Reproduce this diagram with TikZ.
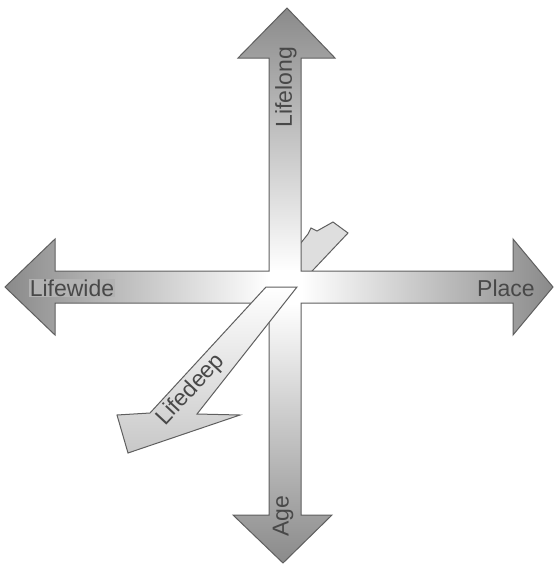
\documentclass[tikz,border=0pt]{standalone}
\usepackage{fontspec}
\setmainfont{Liberation Sans}
\definecolor{armgray}  {RGB}{138,138,138}
\definecolor{midgray}  {RGB}{196,196,196}
\definecolor{edgegray} {RGB}{95,95,95}
\definecolor{deepgray} {RGB}{200,200,200}
\definecolor{labelgray}{RGB}{72,72,72}
\definecolor{boxgray}  {RGB}{178,178,178}

\begin{document}
\begin{tikzpicture}[
  x=1pt,y=-1pt,
  every node/.style={font=\fontsize{23}{27}\selectfont,text=labelgray,inner sep=1pt},
  outline/.style={draw=edgegray,line width=1pt,line join=miter}]
  \useasboundingbox (0,0) rectangle (556,566);
  % far end of the deep arrow, behind the cross
  \filldraw[outline,fill=deepgray!60] (266,287)--(308,234)--(311,228)--(317,231)--(333,222)--(348,233)--(297,287)--cycle;
  % the four arms
  \shade[top color=armgray,bottom color=white,middle color=midgray]
    (287,8)--(335,58)--(301,58)--(301,271)--(269,271)--(269,58)--(238,58)--cycle;
  \shade[top color=white,bottom color=armgray,middle color=midgray]
    (283,563)--(332,515)--(301,515)--(301,303)--(269,303)--(269,515)--(233,515)--cycle;
  \shade[left color=armgray,right color=white,middle color=midgray]
    (5,287)--(55,239)--(55,271)--(269,271)--(269,303)--(55,303)--(55,335)--cycle;
  \shade[left color=white,right color=armgray,middle color=midgray]
    (553,287)--(513,239)--(513,271)--(301,271)--(301,303)--(513,303)--(513,335)--cycle;
  \fill[white] (269,271) rectangle (301,303);
  \draw[outline] (287,8)--(335,58)--(301,58)--(301,271)--(513,271)--(513,239)--(553,287)
    --(513,335)--(513,303)--(301,303)--(301,515)--(332,515)--(283,563)--(233,515)
    --(269,515)--(269,303)--(55,303)--(55,335)--(5,287)--(55,239)--(55,271)
    --(269,271)--(269,58)--(238,58)--cycle;
  % near part of the deep arrow
  \shade[top color=white,bottom color=deepgray]
    (266,287)--(297,287)--(197,414)--(240,415)--(128,453)--(117,415)--(150,413)--cycle;
  \draw[outline] (266,287)--(297,287)--(197,414)--(240,415)--(128,453)--(117,415)--(150,413)--cycle;
  % labels
  \node[rotate=90] (lifelong) at (286,87) {Lifelong};
  \node[fill=boxgray] (lifewide) at (72,288) {Lifewide};
  \node (place) at (506,288) {Place};
  \node[rotate=90] (age) at (283,516) {Age};
  \node[rotate=47] (lifedeep) at (191,390) {Lifedeep};
\end{tikzpicture}
\end{document}
